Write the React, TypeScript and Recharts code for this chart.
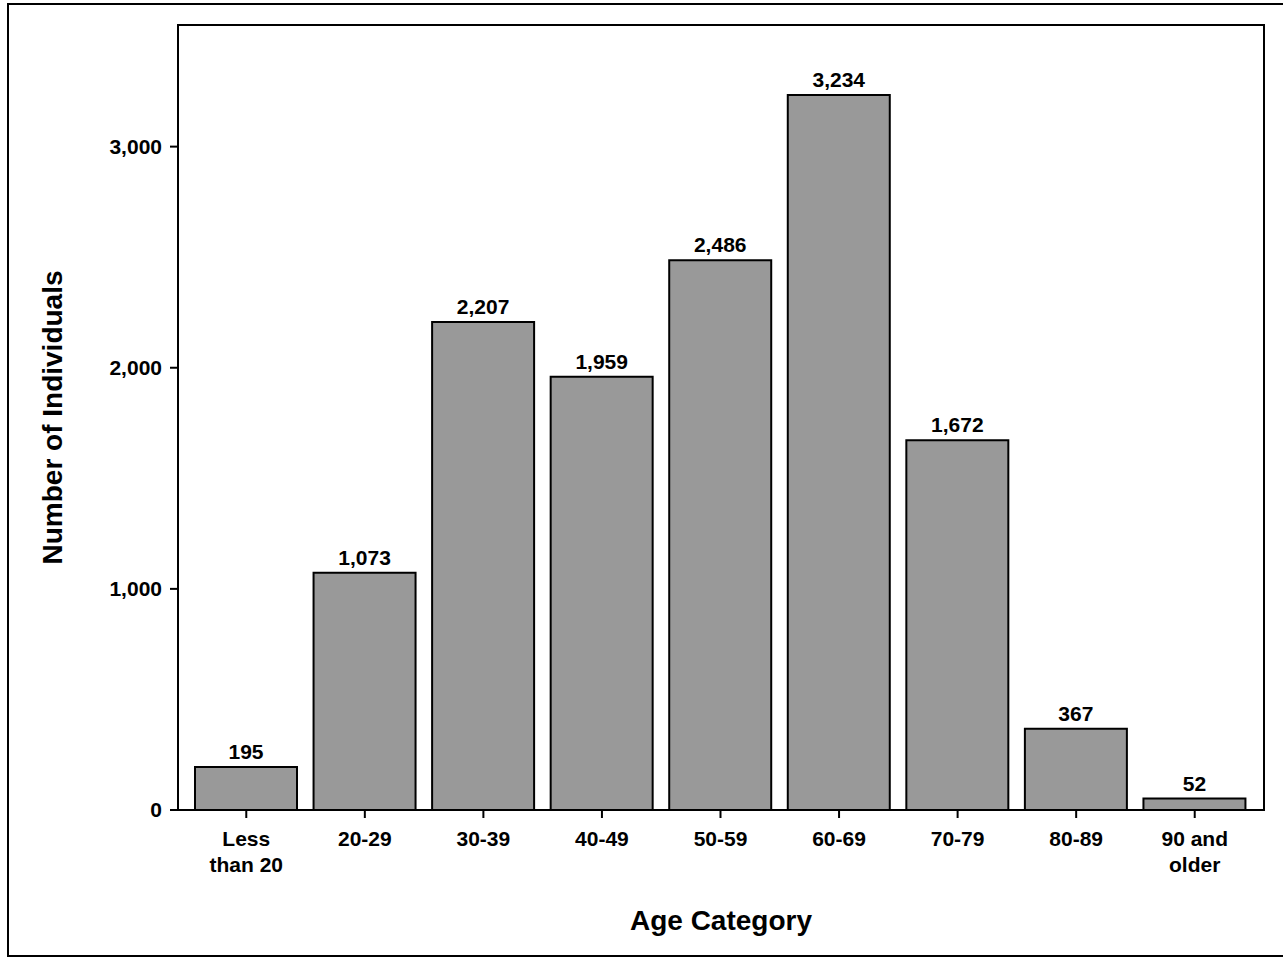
import React from "react";
import { BarChart, Bar, XAxis, YAxis, LabelList } from "recharts";

const categories = ["Less\nthan 20", "20-29", "30-39", "40-49", "50-59", "60-69", "70-79", "80-89", "90 and\nolder"];
const counts = [195, 1073, 2207, 1959, 2486, 3234, 1672, 367, 52];
const yTicks = [0, 1000, 2000, 3000];

const data = categories.map((name, i) => ({ name, count: counts[i] }));
const font = "'Liberation Sans', Arial, sans-serif";
const fmt = (v: number) => v.toLocaleString("en-US");

const CatTick = (props: any) => {
  const { x, y, payload } = props;
  const lines = String(payload.value).split("\n");
  return (
    <text x={x} y={y + 12} textAnchor="middle" fontFamily={font} fontWeight="bold" fontSize={21} fill="#000">
      {lines.map((l, i) => (
        <tspan key={i} x={x} dy={i === 0 ? 14 : 26}>{l}</tspan>
      ))}
    </text>
  );
};

export default function App() {
  return (
    <div style={{ position: "absolute", left: 0, top: 0, width: 1283, height: 960, background: "#fff" }}>
      <div style={{ position: "absolute", left: 7, top: 3, width: 1280, height: 954, border: "2px solid #000", boxSizing: "border-box" }} />
      <div style={{ position: "absolute", left: 177, top: 24, width: 1088, height: 787, border: "2px solid #000", boxSizing: "border-box" }} />
      <div style={{ position: "absolute", left: 0, top: 0 }}>
        <BarChart width={1283} height={960} data={data} margin={{ top: 25, right: 19, left: 58, bottom: 30 }} barSize={102}>
          <XAxis dataKey="name" height={120} tick={<CatTick />} tickLine={{ stroke: "#000", strokeWidth: 2 }} tickSize={8}
            axisLine={false} interval={0} padding={{ left: 9, right: 10 }}
            label={{ value: "Age Category", position: "insideBottom", offset: 0, style: { fontFamily: font, fontWeight: "bold", fontSize: 28, fill: "#000" } }} />
          <YAxis width={120} domain={[0, 3550]} ticks={yTicks} tickFormatter={fmt} allowDataOverflow
            tick={{ fontFamily: font, fontWeight: "bold", fontSize: 21, fill: "#000", dx: -6 }} tickSize={8}
            tickLine={{ stroke: "#000", strokeWidth: 2 }} axisLine={false}
            label={{ value: "Number of Individuals", angle: -90, position: "insideLeft", offset: -6, style: { textAnchor: "middle", fontFamily: font, fontWeight: "bold", fontSize: 28, fill: "#000" } }} />
          <Bar dataKey="count" fill="#999999" stroke="#000" strokeWidth={2} isAnimationActive={false}>
            <LabelList dataKey="count" position="top" offset={8} formatter={(v: any) => fmt(Number(v))}
              style={{ fontFamily: font, fontWeight: "bold", fontSize: 21, fill: "#000" }} />
          </Bar>
        </BarChart>
      </div>
    </div>
  );
}
